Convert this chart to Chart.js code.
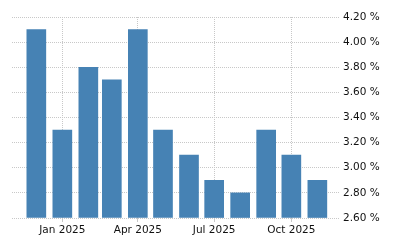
<!DOCTYPE html>
<html>
<head>
<meta charset="utf-8">
<script src="https://cdn.jsdelivr.net/npm/chart.js@4/dist/chart.umd.min.js"></script>
<style>
html,body{margin:0;padding:0;background:#fff;}
#wrap{width:400px;height:250px;}
</style>
</head>
<body>
<div id="wrap"><canvas id="c" width="400" height="250"></canvas></div>
<script>
// Data (monthly, Dec 2024 - Nov 2025)
const months = ["2024-12","2025-01","2025-02","2025-03","2025-04","2025-05","2025-06","2025-07","2025-08","2025-09","2025-10","2025-11"];
const values = [4.1, 3.3, 3.8, 3.7, 4.1, 3.3, 3.1, 2.9, 2.8, 3.3, 3.1, 2.9];
const tickMonths = ["2025-01","2025-04","2025-07","2025-10"];
const tickLabels = ["Jan 2025","Apr 2025","Jul 2025","Oct 2025"];
const yTicks = [2.6, 2.8, 3.0, 3.2, 3.4, 3.6, 3.8, 4.0, 4.2];

const DAY = 86400000;
function dayNum(s){ const [y,m] = s.split("-").map(Number); return Date.UTC(y, m-1, 1)/DAY; }
const points = months.map((m,i)=>({x: dayNum(m), y: values[i]}));
const tickVals = tickMonths.map(dayNum);

const grid = '#c8c8c8';
new Chart(document.getElementById('c'), {
  type: 'bar',
  data: { datasets: [{ data: points, backgroundColor: '#4682b4', borderWidth: 0, barThickness: 19, base: 2.6 }] },
  options: {
    responsive: false, animation: false,
    layout: { padding: { left: 12, top: 17, right: 0, bottom: 0 } },
    plugins: { legend: { display: false }, tooltip: { enabled: false } },
    scales: {
      x: {
        type: 'linear',
        offset: false,
        min: dayNum(months[0]) - 29,
        max: dayNum(months[months.length-1]) + 27,
        afterBuildTicks: s => { s.ticks = tickVals.map(v=>({value:v})); },
        afterFit: s => { s.height = 32; },
        border: { display: false, dash: [1,1] },
        grid: { offset: false, color: grid, tickLength: 4, drawTicks: true },
        ticks: {
          autoSkip: false, maxRotation: 0, padding: 2, color: '#111',
          font: { family: 'DejaVu Sans', size: 10.5 },
          callback: (v) => { const i = tickVals.indexOf(v); return i >= 0 ? tickLabels[i] : ''; }
        }
      },
      y: {
        position: 'right',
        min: 2.6, max: 4.2,
        afterBuildTicks: s => { s.ticks = yTicks.map(v=>({value:v})); },
        afterFit: s => { s.width = 60; },
        border: { display: false, dash: [1,1] },
        grid: { color: grid, drawTicks: false },
        ticks: {
          padding: 3, color: '#111',
          font: { family: 'DejaVu Sans', size: 10.5 },
          callback: v => v.toFixed(2) + ' %'
        }
      }
    }
  }
});
</script>
</body>
</html>
